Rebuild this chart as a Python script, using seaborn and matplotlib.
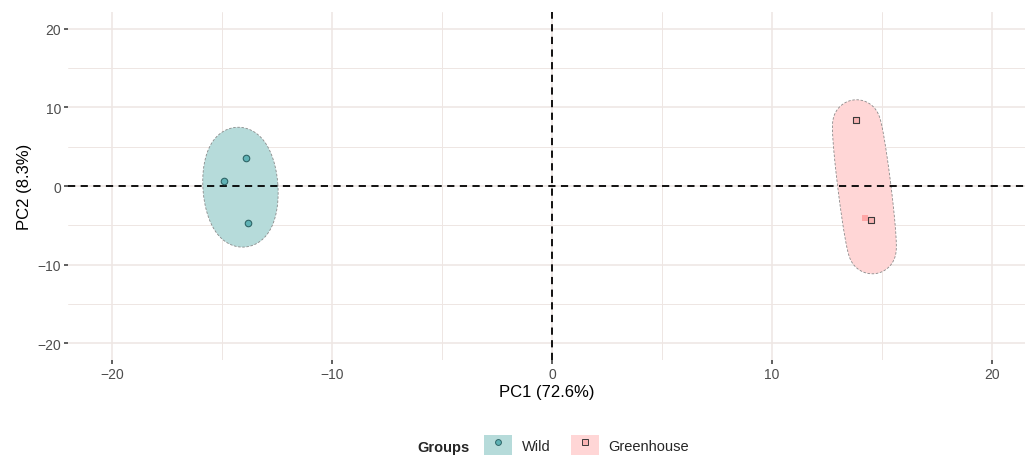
import numpy as np
import pandas as pd
import matplotlib
matplotlib.use("Agg")
import matplotlib.pyplot as plt
import seaborn as sns
from matplotlib.patches import Patch
from matplotlib.lines import Line2D

# PCA scores
groups = ["Wild", "Wild", "Wild", "Greenhouse", "Greenhouse"]
pc1 = [-14.9, -13.9, -13.8, 13.8, 14.5]
pc2 = [0.6, 3.5, -4.7, 8.4, -4.3]
# the extra greenhouse point that shows only as a pink blob
hidden_pc1 = [14.25]
hidden_pc2 = [-4.1]

# group hulls: expanded ellipses (centre in data units, core half-axes and pad in pixels)
ell_groups = ["Wild", "Greenhouse"]
ell_cx = [-14.16, 14.2]
ell_cy = [-0.15, -0.1]
ell_major = [36.5, 64.0]
ell_minor = [14.0, 3.0]
ell_tilt = [4.0, 7.1]
ell_pad = 23.5

fill_cols = {"Wild": "#b6dbda", "Greenhouse": "#ffd6d6"}
point_cols = {"Wild": "#5fb2b5", "Greenhouse": "#f9b3b3"}
edge_cols = {"Wild": "#2e6466", "Greenhouse": "#3a3a3a"}
markers = {"Wild": "o", "Greenhouse": "s"}

df = pd.DataFrame({"group": groups, "PC1": pc1, "PC2": pc2})

sns.set_style("white")
plt.rcParams["font.family"] = ["Liberation Sans", "DejaVu Sans"]

fig = plt.figure(figsize=(10.25, 4.56), dpi=100)
ax = fig.add_axes([0.0663, 0.2083, 0.9337, 0.7632])

grid_col = "#eee6e3"
ax.set_xlim(-22, 21.5)
ax.set_ylim(-22.1, 22.1)
ax.set_xticks([-20, -10, 0, 10, 20])
ax.set_yticks([-20, -10, 0, 10, 20])
ax.set_xticks([-15, -5, 5, 15], minor=True)
ax.set_yticks([-15, -5, 5, 15], minor=True)
ax.grid(True, which="major", color=grid_col, lw=1.1, zorder=0)
ax.grid(True, which="minor", color=grid_col, lw=0.7, zorder=0)
ax.set_axisbelow(True)
for s in ax.spines.values():
    s.set_visible(False)
ax.tick_params(which="major", length=3, width=1.1, color="#333333",
               labelcolor="#4d4d4d", labelsize=10, pad=2, left=True, bottom=True)
ax.tick_params(which="minor", length=0)
ax.set_xticklabels(["\u221220", "\u221210", "0", "10", "20"])
ax.set_yticklabels(["\u221220", "\u221210", "0", "10", "20"])

# expanded ellipses, built in pixel space then mapped back to data
t = np.linspace(0, 2 * np.pi, 8000)
for g, cx, cy, a, b, tilt in zip(ell_groups, ell_cx, ell_cy, ell_major, ell_minor, ell_tilt):
    th = np.deg2rad(tilt)
    u = np.array([-np.sin(th), np.cos(th)])   # major direction (top leans left)
    v = np.array([np.cos(th), np.sin(th)])    # minor direction
    lx, ly = b * np.cos(t), a * np.sin(t)
    nx, ny = np.cos(t) / b, np.sin(t) / a
    nn = np.hypot(nx, ny)
    nx, ny = nx / nn, ny / nn
    px = (lx + ell_pad * nx)[:, None] * v + (ly + ell_pad * ny)[:, None] * u
    c = ax.transData.transform((cx, cy))
    d = ax.transData.inverted().transform(px + c)
    ax.fill(d[:, 0], d[:, 1], facecolor=fill_cols[g], edgecolor="#8a8a8a",
            lw=0.6, ls=(0, (3, 2)), zorder=2)

ax.axhline(0, color="black", lw=1.3, ls=(0, (4, 3)), zorder=3)
ax.axvline(0, color="black", lw=1.3, ls=(0, (4, 3)), zorder=3)

ax.scatter(hidden_pc1, hidden_pc2, marker="s", s=18, color="#ffa6a6", lw=0, zorder=4)
for g in ell_groups:
    sub = df[df["group"] == g]
    sns.scatterplot(data=sub, x="PC1", y="PC2", marker=markers[g],
                    s=22 if g == "Wild" else 18,
                    color=point_cols[g], edgecolor=edge_cols[g], linewidth=0.8,
                    ax=ax, zorder=5, legend=False)

ax.set_xlabel("PC1 (72.6%)", fontsize=12, color="black", labelpad=2)
ax.set_ylabel("PC2 (8.3%)", fontsize=12, color="black", labelpad=4)

handles = []
for g in ell_groups:
    handles.append((Patch(facecolor=fill_cols[g], edgecolor="none"),
                    Line2D([], [], marker=markers[g], ls="none", markersize=4.2,
                           markerfacecolor=point_cols[g], markeredgecolor=edge_cols[g],
                           markeredgewidth=0.7)))
fig.text(417 / 1025, 1 - 452 / 456, "Groups", fontsize=10.5, fontweight="bold",
         va="baseline", ha="left")
fig.legend(handles, ell_groups, loc="center left", bbox_to_anchor=(484 / 1025, 1 - 446 / 456),
           ncol=2, frameon=False, fontsize=10.5, handlelength=1.92, handleheight=1.71,
           handletextpad=0.68, columnspacing=1.37, borderpad=0, borderaxespad=0)

fig.savefig("out.png", dpi=100)
